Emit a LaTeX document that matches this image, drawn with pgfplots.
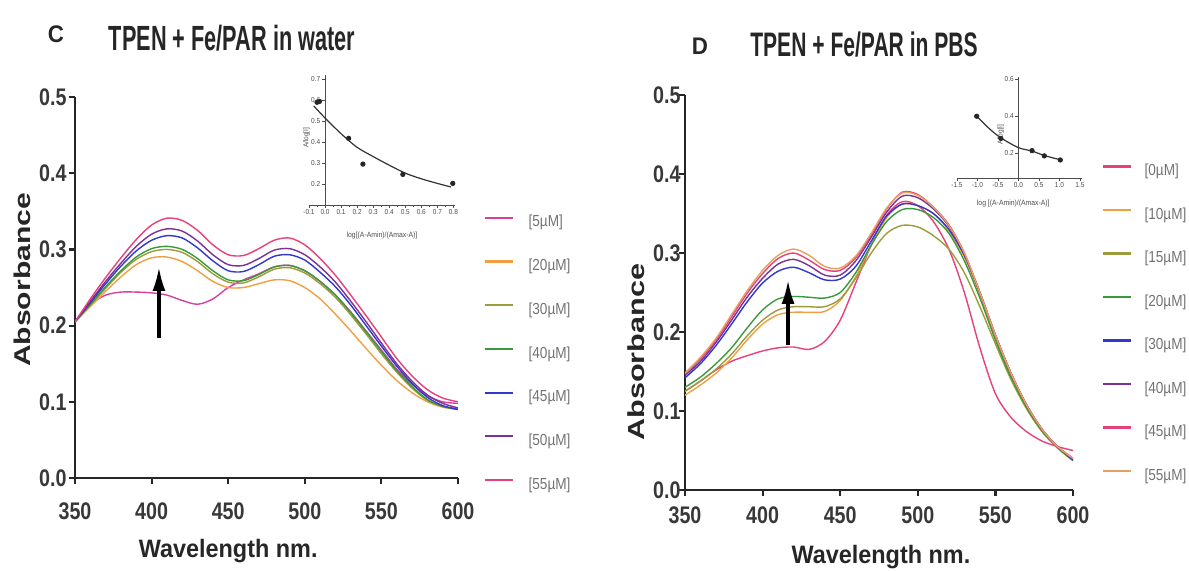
\documentclass[border=0pt]{standalone}
\usepackage{pgfplots}
\pgfplotsset{compat=1.18}
\usepackage{pgfplotstable}
\usepackage{fontspec}
\usetikzlibrary{arrows.meta}
\setmainfont{Liberation Sans}
\newfontfamily\tickf[FakeStretch=0.82]{Liberation Sans}
\newfontfamily\titlef[FakeStretch=0.62]{Liberation Sans}
\newfontfamily\labf[FakeStretch=0.93]{Liberation Sans}
\newfontfamily\ylabf[FakeStretch=1.32]{Liberation Sans}
\newfontfamily\legf[FakeStretch=0.85]{Liberation Sans}
\newfontfamily\insf[FakeStretch=0.9]{Liberation Sans}

\definecolor{cMag}{HTML}{D8409C}
\definecolor{cOra}{HTML}{F0A040}
\definecolor{cOli}{HTML}{9C9C3C}
\definecolor{cGre}{HTML}{3A9A3A}
\definecolor{cBlu}{HTML}{3038D0}
\definecolor{cPur}{HTML}{7A3296}
\definecolor{cPnk}{HTML}{E8407A}
\definecolor{cTan}{HTML}{E6A060}

\pgfplotstableread{
wl   a5    a20   a30   a40   a45   a50   a55
350 0.205 0.205 0.205 0.205 0.205 0.205 0.205
360 0.228 0.225 0.227 0.228 0.230 0.232 0.235
370 0.240 0.245 0.249 0.251 0.255 0.258 0.263
380 0.244 0.264 0.270 0.272 0.278 0.282 0.289
390 0.244 0.280 0.287 0.290 0.298 0.304 0.313
400 0.243 0.289 0.297 0.301 0.312 0.320 0.332
410 0.240 0.290 0.300 0.304 0.318 0.327 0.341
420 0.233 0.284 0.296 0.300 0.315 0.324 0.338
430 0.228 0.272 0.284 0.288 0.302 0.311 0.325
440 0.235 0.258 0.268 0.272 0.285 0.293 0.306
450 0.250 0.250 0.257 0.260 0.272 0.280 0.293
460 0.260 0.250 0.256 0.259 0.271 0.279 0.292
470 0.268 0.255 0.264 0.267 0.280 0.288 0.301
480 0.277 0.260 0.274 0.277 0.291 0.299 0.312
490 0.279 0.259 0.276 0.279 0.293 0.301 0.315
500 0.272 0.250 0.269 0.272 0.286 0.293 0.306
510 0.258 0.235 0.255 0.258 0.270 0.277 0.288
520 0.240 0.215 0.237 0.240 0.251 0.257 0.266
530 0.218 0.193 0.214 0.217 0.227 0.232 0.240
540 0.193 0.170 0.189 0.192 0.200 0.205 0.213
550 0.168 0.148 0.163 0.166 0.173 0.177 0.185
560 0.143 0.128 0.139 0.141 0.147 0.150 0.157
570 0.123 0.112 0.118 0.120 0.124 0.127 0.134
580 0.108 0.100 0.102 0.103 0.106 0.109 0.116
590 0.100 0.093 0.094 0.094 0.095 0.098 0.105
600 0.098 0.090 0.091 0.090 0.090 0.092 0.100
}\dataC

\pgfplotstableread{
wl   b0    b10   b15   b20   b30   b40   b45   b55
350 0.125 0.120 0.125 0.130 0.142 0.145 0.147 0.148
360 0.138 0.133 0.138 0.143 0.160 0.163 0.166 0.168
370 0.152 0.148 0.153 0.160 0.183 0.187 0.190 0.192
380 0.163 0.167 0.172 0.180 0.210 0.215 0.219 0.222
390 0.170 0.190 0.195 0.205 0.238 0.244 0.249 0.252
400 0.176 0.210 0.215 0.228 0.262 0.268 0.274 0.278
410 0.180 0.222 0.228 0.242 0.277 0.286 0.293 0.297
420 0.181 0.225 0.232 0.245 0.282 0.292 0.300 0.305
430 0.178 0.225 0.232 0.244 0.275 0.284 0.291 0.297
440 0.188 0.226 0.232 0.243 0.266 0.272 0.279 0.283
450 0.215 0.240 0.242 0.250 0.267 0.272 0.278 0.281
460 0.262 0.270 0.268 0.275 0.283 0.290 0.294 0.296
470 0.310 0.310 0.300 0.310 0.315 0.320 0.323 0.325
480 0.348 0.345 0.325 0.340 0.347 0.352 0.356 0.357
490 0.365 0.362 0.335 0.355 0.362 0.372 0.377 0.376
500 0.360 0.360 0.333 0.355 0.360 0.370 0.374 0.373
510 0.340 0.350 0.322 0.345 0.350 0.356 0.358 0.358
520 0.305 0.328 0.305 0.325 0.330 0.334 0.336 0.335
530 0.250 0.295 0.275 0.290 0.297 0.299 0.300 0.300
540 0.180 0.248 0.232 0.243 0.250 0.250 0.250 0.250
550 0.122 0.195 0.185 0.190 0.196 0.196 0.196 0.196
560 0.092 0.147 0.140 0.143 0.148 0.148 0.148 0.148
570 0.074 0.107 0.103 0.105 0.108 0.108 0.108 0.108
580 0.062 0.076 0.074 0.075 0.077 0.077 0.077 0.077
590 0.055 0.054 0.053 0.054 0.055 0.055 0.055 0.055
600 0.050 0.038 0.037 0.038 0.038 0.040 0.040 0.040
}\dataD

\pgfplotsset{
  mainax/.style={
    scale only axis, anchor=south west,
    axis lines*=left, axis line style={line width=1.2pt, black!85},
    tick align=outside, major tick length=3pt,
    every tick/.style={line width=1.1pt, black!85},
    xmin=350, xmax=600, ymin=0, ymax=0.5,
    xtick={350,400,...,600}, ytick={0,0.1,...,0.5},
    /pgf/number format/assume math mode=true,
    tick label style={font=\tickf\bfseries\fontsize{12}{13}\selectfont, text=black!78},
    yticklabel style={/pgf/number format/fixed, /pgf/number format/fixed zerofill, /pgf/number format/precision=1, inner sep=0pt, anchor=east},
    xticklabel style={inner sep=0pt, anchor=north},
    scaled y ticks=false,
    legend cell align=left,
    legend image code/.code={\draw[#1, line width=1.1pt] (0pt,2.6pt) -- (14pt,2.6pt);},
  },
  insax/.style={
    scale only axis, anchor=south west,
    axis x line=bottom, axis y line=middle,
    axis line style={-, line width=0.45pt, black!70},
    every tick/.style={line width=0.35pt, black!70},
    major tick length=1.6pt, minor tick length=1pt, tick align=outside,
    /pgf/number format/assume math mode=true,
    tick label style={font=\insf\fontsize{3.6}{4}\selectfont, text=black!70, inner sep=0.6pt},
    xticklabel style={/pgf/number format/fixed, /pgf/number format/fixed zerofill, /pgf/number format/precision=1},
    yticklabel style={/pgf/number format/fixed, /pgf/number format/fixed zerofill, /pgf/number format/precision=1},
    xlabel style={font=\insf\fontsize{3.8}{4}\selectfont, text=black!70, inner sep=0.5pt},
    clip=false,
  },
}

\begin{document}
\begin{tikzpicture}
\useasboundingbox (0,0) rectangle (594.5pt,285pt);

% Titles
\node[anchor=base, font=\labf\bfseries\fontsize{12}{12}\selectfont, text=black!85] at (28pt,264pt) {C};
\node[anchor=base, font=\titlef\bfseries\fontsize{17.5}{18}\selectfont, text=black!85] at (116pt,260pt) {TPEN + Fe/PAR in water};
\node[anchor=base, font=\labf\bfseries\fontsize{12}{12}\selectfont, text=black!85] at (350pt,258pt) {D};
\node[anchor=base, font=\titlef\bfseries\fontsize{17}{18}\selectfont, text=black!85] at (432pt,257pt) {TPEN + Fe/PAR in PBS};

% Panel C
\begin{axis}[mainax, at={(37.5pt,46pt)}, width=191.5pt, height=190.5pt,
  yticklabel style={xshift=-1pt}, xticklabel style={yshift=-9pt},
  xlabel={Wavelength nm.}, ylabel={Absorbance},
  xlabel style={font=\labf\bfseries\fontsize{12.6}{13}\selectfont, text=black!85, at={(axis description cs:0.40,-0.193)}, anchor=center},
  ylabel style={font=\ylabf\bfseries\fontsize{11.4}{12}\selectfont, text=black!85, at={(axis description cs:-0.138,0.52)}, anchor=center, rotate=0},
  legend style={draw=none, fill=none, at={(1.0653,0.689)}, anchor=north west, font=\legf\fontsize{8}{9}\selectfont, text=black!55, row sep=14.75pt, column sep=7.5pt, inner sep=0pt, nodes={inner sep=0pt, text height=5.5pt, text depth=1.6pt}},
]
\addplot[cMag, line width=0.7pt, smooth] table[x=wl,y=a5]{\dataC}; \addlegendentry{[5µM]}
\addplot[cOra, line width=0.7pt, smooth] table[x=wl,y=a20]{\dataC}; \addlegendentry{[20µM]}
\addplot[cOli, line width=0.7pt, smooth] table[x=wl,y=a30]{\dataC}; \addlegendentry{[30µM]}
\addplot[cGre, line width=0.7pt, smooth] table[x=wl,y=a40]{\dataC}; \addlegendentry{[40µM]}
\addplot[cBlu, line width=0.7pt, smooth] table[x=wl,y=a45]{\dataC}; \addlegendentry{[45µM]}
\addplot[cPur, line width=0.7pt, smooth] table[x=wl,y=a50]{\dataC}; \addlegendentry{[50µM]}
\addplot[cPnk, line width=0.7pt, smooth] table[x=wl,y=a55]{\dataC}; \addlegendentry{[55µM]}
\draw[-{Latex[length=12pt,width=6.5pt]}, line width=1.6pt, black] (axis cs:404.8,0.184) -- (axis cs:404.8,0.277);
\end{axis}

% Inset C
\begin{axis}[insax, at={(154.5pt,182.5pt)}, width=73pt, height=65pt,
  xmin=-0.1, xmax=0.81, ymin=0.1, ymax=0.72,
  xtick={-0.1,0,0.1,0.2,0.3,0.4,0.5,0.6,0.7,0.8}, minor x tick num=1,
  ytick={0.2,0.3,0.4,0.5,0.6,0.7},
  xlabel={log[(A-Amin)/(Amax-A)]},
  xlabel style={at={(axis description cs:0.5,-0.2)}, anchor=north},
]
\addplot[black!80, line width=0.6pt, smooth] coordinates {(-0.07,0.572)(0.0,0.515)(0.1,0.44)(0.2,0.375)(0.3,0.331)(0.4,0.29)(0.5,0.252)(0.6,0.225)(0.7,0.203)(0.785,0.186)};
\addplot[only marks, mark=*, mark size=1.1pt, black!85] coordinates {(-0.05,0.59)(-0.035,0.594)(0.147,0.418)(0.236,0.295)(0.485,0.246)(0.796,0.203)};
\node[font=\insf\fontsize{3.6}{4}\selectfont, text=black!70, rotate=90] at (axis cs:-0.115,0.42) {A/log[I]};
\end{axis}

% Panel D
\begin{axis}[mainax, at={(342.5pt,40pt)}, width=194pt, height=197.5pt,
  yticklabel style={xshift=1pt}, xticklabel style={yshift=-5pt},
  xlabel={Wavelength nm.}, ylabel={Absorbance},
  xlabel style={font=\labf\bfseries\fontsize{12.6}{13}\selectfont, text=black!85, at={(axis description cs:0.505,-0.170)}, anchor=center},
  ylabel style={font=\ylabf\bfseries\fontsize{11.6}{12}\selectfont, text=black!85, at={(axis description cs:-0.126,0.349)}, anchor=center, rotate=0},
  legend style={draw=none, fill=none, at={(1.0747,0.825)}, anchor=north west, font=\legf\fontsize{8}{9}\selectfont, text=black!55, row sep=14.65pt, column sep=6pt, inner sep=0pt, nodes={inner sep=0pt, text height=5.5pt, text depth=1.6pt}},
]
\addplot[cPnk, line width=0.7pt, smooth] table[x=wl,y=b0]{\dataD}; \addlegendentry{[0µM]}
\addplot[cOra, line width=0.7pt, smooth] table[x=wl,y=b10]{\dataD}; \addlegendentry{[10µM]}
\addplot[cOli, line width=0.7pt, smooth] table[x=wl,y=b15]{\dataD}; \addlegendentry{[15µM]}
\addplot[cGre, line width=0.7pt, smooth] table[x=wl,y=b20]{\dataD}; \addlegendentry{[20µM]}
\addplot[cBlu, line width=0.7pt, smooth] table[x=wl,y=b30]{\dataD}; \addlegendentry{[30µM]}
\addplot[cPur, line width=0.7pt, smooth] table[x=wl,y=b40]{\dataD}; \addlegendentry{[40µM]}
\addplot[cPnk, line width=0.7pt, smooth] table[x=wl,y=b45]{\dataD}; \addlegendentry{[45µM]}
\addplot[cTan, line width=0.7pt, smooth] table[x=wl,y=b55]{\dataD}; \addlegendentry{[55µM]}
\draw[-{Latex[length=12pt,width=6.5pt]}, line width=1.6pt, black] (axis cs:416.4,0.184) -- (axis cs:416.4,0.266);
\end{axis}

% Inset D
\begin{axis}[insax, at={(478.5pt,196pt)}, width=62.5pt, height=50.5pt,
  xmin=-1.5, xmax=1.55, ymin=0.067, ymax=0.61,
  xtick={-1.5,-1,-0.5,0,0.5,1,1.5},
  ytick={0.2,0.4,0.6},
  xlabel={log [(A-Amin)/(Amax-A)]},
  xlabel style={at={(axis description cs:0.45,-0.2)}, anchor=north},
]
\addplot[black!80, line width=0.6pt, smooth] coordinates {(-1.02,0.399)(-0.7,0.33)(-0.43,0.283)(0,0.23)(0.33,0.212)(0.63,0.188)(1.02,0.165)};
\addplot[only marks, mark=*, mark size=1.1pt, black!85] coordinates {(-1.02,0.399)(-0.43,0.28)(0.33,0.214)(0.63,0.186)(1.02,0.164)};
\node[font=\insf\fontsize{3.6}{4}\selectfont, text=black!70, rotate=90] at (axis cs:-0.43,0.30) {A/log[I]};
\end{axis}
\end{tikzpicture}
\end{document}
